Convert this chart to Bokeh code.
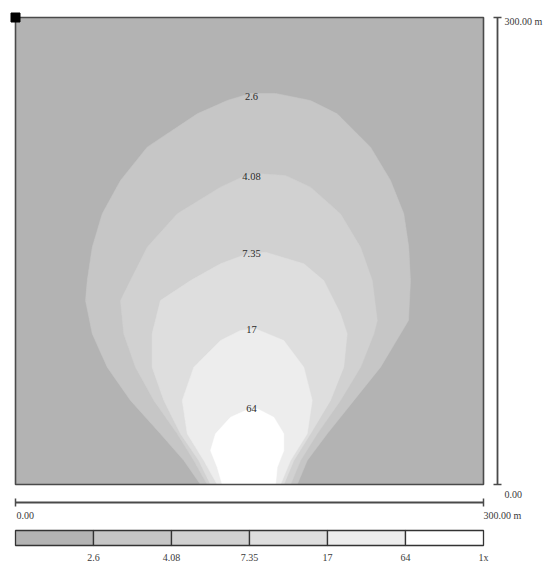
from bokeh.plotting import figure
from bokeh.models import Range1d
from bokeh.embed import file_html
from bokeh.resources import INLINE
from bokeh.core.properties import value

# ---------------- data ----------------
EXTENT = 300.0  # metres
contour_levels = ["2.6", "4.08", "7.35", "17", "64"]
label_x = [151.3, 151.3, 151.3, 151.3, 151.3]
label_y = [249.2, 197.9, 148.4, 99.6, 48.8]
legend_labels = ["2.6", "4.08", "7.35", "17", "64", "1x"]
legend_colors = ["#b3b3b3", "#c6c6c6", "#d1d1d1", "#dedede", "#ededed", "#ffffff"]

c26_x = [118.6, 107.9, 92.9, 73.7, 58.8, 49.2, 44.9, 46.0, 49.2, 55.6, 67.3, 84.4, 116.5, 135.7,
         150.6, 166.7, 189.1, 206.2, 227.6, 240.4, 248.9, 252.1, 253.2, 251.9, 246.8, 234.0,
         216.9, 199.8, 187.0, 180.6]
c26_y = [0, 15.4, 32.6, 54.0, 75.4, 96.8, 118.2, 131.0, 152.4, 173.9, 195.3, 216.7, 238.1, 246.7,
         251.2, 251.2, 246.7, 238.1, 216.7, 195.3, 173.9, 152.4, 131.0, 105.4, 96.8, 75.4,
         54.0, 32.6, 15.4, 0]

c408_x = [122.9, 114.3, 103.7, 88.7, 76.9, 69.4, 67.3, 73.7, 84.4, 103.7, 131.4, 147.4, 157.1,
          173.1, 189.1, 208.3, 221.2, 228.7, 231.9, 229.7, 221.2, 208.3, 193.4, 182.7, 176.3]
c408_y = [0, 15.4, 32.6, 54.0, 75.4, 96.8, 118.2, 131.0, 152.4, 173.9, 191.0, 198.5, 199.6,
          198.5, 191.0, 173.9, 152.4, 131.0, 105.4, 96.8, 75.4, 54.0, 32.6, 15.4, 0]

c735_x = [125.0, 117.5, 105.8, 95.1, 87.6, 87.6, 92.9, 112.2, 131.4, 147.4, 160.3, 184.8, 197.6,
          208.3, 212.6, 210.4, 201.9, 189.1, 178.4, 172.0]
c735_y = [0, 15.4, 32.6, 54.0, 75.4, 96.8, 118.2, 131.0, 141.8, 147.8, 149.2, 141.8, 131.0,
          109.7, 96.8, 75.4, 54.0, 32.6, 15.4, 0]

c17_x = [129.3, 120.7, 110.1, 106.9, 114.3, 131.4, 144.2, 153.8, 172.0, 184.8, 190.2, 187.0, 176.3, 169.9]
c17_y = [0, 15.4, 32.6, 54.0, 75.4, 92.5, 98.9, 100.0, 92.5, 75.4, 54.0, 32.6, 15.4, 0]

c64_x = [132.5, 129.3, 125.0, 128.2, 137.8, 147.4, 155.1, 165.6, 172.0, 172.0, 167.8, 166.7]
c64_y = [0, 11.1, 21.8, 32.6, 43.2, 47.5, 48.6, 43.2, 32.6, 21.8, 11.1, 0]

contours_x = [c26_x, c408_x, c735_x, c17_x, c64_x]
contours_y = [c26_y, c408_y, c735_y, c17_y, c64_y]

# ---------------- layout (pixels) ----------------
W, H = 560, 563
FL, FT, FW, FH = 15, 17, 468, 467       # field box inside the figure
sx = EXTENT / FW
sy = EXTENT / FH

def below(px):   # data y for a pixel distance below the field's bottom edge
    return -px * sy

x_range = Range1d(-FL * sx, (W - FL) * sx)
y_range = Range1d(below(H - FT - FH), EXTENT + FT * sy)

p = figure(width=W, height=H, x_range=x_range, y_range=y_range,
           output_backend="svg", toolbar_location=None,
           x_axis_location=None, y_axis_location=None, min_border=0)
p.grid.visible = False
p.outline_line_color = None
p.background_fill_color = "white"
p.border_fill_color = "white"

FONT = value("Liberation Serif")
TXT = "#3a3a3a"
LINE = "#4a4a4a"

# field background
p.quad(left=[0], right=[EXTENT], bottom=[0], top=[EXTENT],
       fill_color=legend_colors[0], line_color=None)

# filled contours
p.patches(xs=contours_x, ys=contours_y, fill_color=legend_colors[1:],
          line_color=legend_colors[1:], line_width=0.5)

# field outline
p.quad(left=[0], right=[EXTENT], bottom=[0], top=[EXTENT],
       fill_color=None, line_color=LINE, line_width=1.6)
p.scatter([0], [EXTENT], marker="square", size=9, color="black")

# contour labels
p.text(x=label_x, y=label_y, text=contour_levels, text_font=FONT,
       text_font_size="10.5px", text_color="#2a2a2a",
       text_align="center", text_baseline="middle")

# bottom scale bar
yb = below(18)
cap = 4
p.segment(x0=[0], y0=[yb], x1=[EXTENT], y1=[yb], line_color=LINE, line_width=1.8)
p.segment(x0=[0, EXTENT], y0=[yb - cap * sy] * 2, x1=[0, EXTENT], y1=[yb + cap * sy] * 2,
          line_color=LINE, line_width=1.5)
p.text(x=[0, EXTENT], y=[below(31)] * 2, text=["0.00", "300.00 m"], text_font=FONT,
       text_font_size="10px", text_color=TXT, text_align="left", text_baseline="middle",
       x_offset=[1, 0])

# right scale bar
xr = EXTENT + 14 * sx
p.segment(x0=[xr], y0=[0], x1=[xr], y1=[EXTENT], line_color=LINE, line_width=1.8)
p.segment(x0=[xr - cap * sx] * 2, y0=[0, EXTENT], x1=[xr + cap * sx] * 2, y1=[0, EXTENT],
          line_color=LINE, line_width=1.5)
p.text(x=[xr] * 2, y=[EXTENT, 0], text=["300.00 m", "0.00"], text_font=FONT,
       text_font_size="10px", text_color=TXT, text_align="left", text_baseline="middle",
       x_offset=7, y_offset=[4, 10])

# legend boxes
n = len(legend_colors)
bw = EXTENT / n
lefts = [i * bw for i in range(n)]
rights = [(i + 1) * bw for i in range(n)]
p.quad(left=lefts, right=rights, bottom=[below(61)] * n, top=[below(46)] * n,
       fill_color=legend_colors, line_color="#333333", line_width=1.3)
p.text(x=rights, y=[below(73)] * n, text=legend_labels, text_font=FONT,
       text_font_size="10px", text_color=TXT, text_align="center", text_baseline="middle")

open("out.html", "w").write(file_html(p, INLINE))
